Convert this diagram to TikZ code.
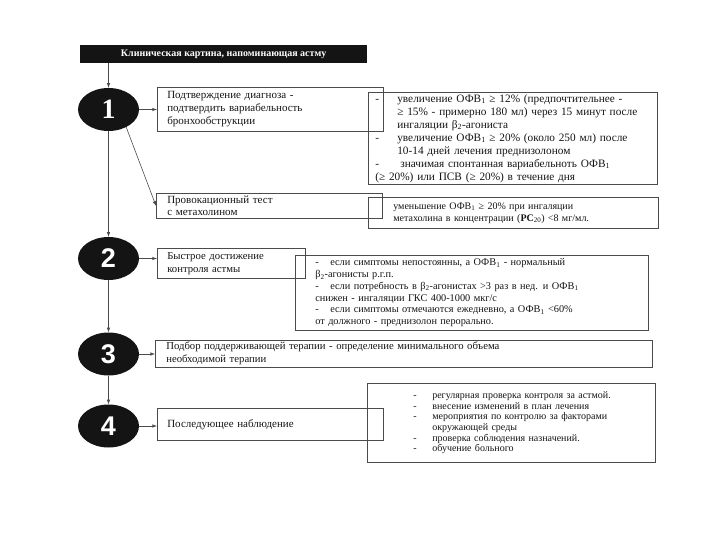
\documentclass[tikz,border=0pt]{standalone}
\usepackage{fontspec}
\setmainfont{Liberation Serif}
\newfontfamily\numfont{Liberation Sans}
\usetikzlibrary{shapes.geometric, arrows, positioning}
\definecolor{scanblack}{RGB}{20,20,20}
\definecolor{scangray}{RGB}{75,75,75}
\newcommand{\dsh}[1][22pt]{\makebox[#1][l]{-}}
\newcommand{\ofv}{ОФВ\textsubscript{1}}

\begin{document}
\begin{tikzpicture}[x=1pt, y=-1pt,
    stage/.style={ellipse, fill=scanblack, text=white, minimum width=61pt, minimum height=43pt, inner sep=0pt, font=\fontsize{28}{28}\selectfont\bfseries},
    box/.style={draw=scangray, line width=0.6pt, rectangle, anchor=north west, align=left, inner ysep=0pt, text=scanblack, font=\fontsize{11}{13}\selectfont},
    link/.style={draw=scangray, line width=0.6pt, -latex}]
  \useasboundingbox (0,0) rectangle (720,540);

  \node[fill=scanblack, text=white, anchor=north west, minimum width=287pt, minimum height=18pt, inner sep=0pt, font=\fontsize{10}{10}\selectfont\bfseries] (title) at (80,45) {Клиническая картина, напоминающая астму};

  \node[stage] (s1) at (108.5,109.5) {1};
  \node[stage, font=\fontsize{27}{27}\selectfont\numfont\bfseries] (s2) at (108.5,258.5) {2};
  \node[stage, font=\fontsize{27}{27}\selectfont\numfont\bfseries] (s3) at (108.5,354) {3};
  \node[stage, font=\fontsize{27}{27}\selectfont\numfont\bfseries] (s4) at (108.5,426) {4};

  \node[box, minimum width=226pt, minimum height=44pt, text width=206pt, inner xsep=10pt] (confirm) at (157,87) {Подтверждение диагноза -\\ подтвердить вариабельность\\ бронхообструкции};
  \node[box, minimum width=289pt, minimum height=92pt, text width=275pt, inner xsep=7pt, font=\fontsize{11.3}{13}\selectfont] (criteria) at (368,92) {\dsh увеличение \ofv{} ≥ 12\% (предпочтительнее -\\ \hspace*{22pt}≥ 15\% - примерно 180 мл) через 15 минут после\\ \hspace*{22pt}ингаляции β\textsubscript{2}-агониста\\ \dsh увеличение \ofv{} ≥ 20\% (около 250 мл) после\\ \hspace*{22pt}10-14 дней лечения преднизолоном\\ \dsh[25pt]значимая спонтанная вариабельноть \ofv\\ (≥ 20\%) или ПСВ (≥ 20\%) в течение дня};

  \node[box, minimum width=226pt, minimum height=25pt, text width=204pt, inner xsep=11pt, font=\fontsize{11}{12}\selectfont] (provoc) at (156,193) {Провокационный тест\\ с метахолином};
  \node[box, minimum width=290pt, minimum height=31pt, text width=240pt, inner xsep=25pt, font=\fontsize{10}{12}\selectfont] (metach) at (368,197) {уменьшение \ofv{} ≥ 20\% при ингаляции\\ метахолина в концентрации (\textbf{PC}\textsubscript{20}) <8 мг/мл.};

  \node[box, minimum width=148pt, minimum height=30pt, text width=128pt, inner xsep=10pt, font=\fontsize{10.7}{13}\selectfont] (rapid) at (157,248) {Быстрое достижение\\ контроля астмы};
  \node[box, minimum width=353pt, minimum height=75pt, text width=313pt, inner xsep=20pt, font=\fontsize{10.3}{11.8}\selectfont] (cases) at (295,255) {\dsh[15pt]если симптомы непостоянны, а \ofv{} - нормальный\\ β\textsubscript{2}-агонисты р.г.п.\\ \dsh[15pt]если потребность в β\textsubscript{2}-агонистах >3 раз в нед. и \ofv\\ снижен - ингаляции ГКС 400-1000 мкг/с\\ \dsh[15pt]если симптомы отмечаются ежедневно, а \ofv{} <60\%\\ от должного - преднизолон перорально.};

  \node[box, minimum width=497pt, minimum height=27pt, text width=475pt, inner xsep=11pt, font=\fontsize{10.7}{13}\selectfont] (maintain) at (155,340) {Подбор поддерживающей терапии - определение минимального объема\\ необходимой терапии};

  \node[box, minimum width=226pt, minimum height=32pt, text width=206pt, inner xsep=10pt] (followup) at (157,408) {Последующее наблюдение};
  \node[box, minimum width=288pt, minimum height=79pt, text width=268pt, inner xsep=10pt, font=\fontsize{10}{10.6}\selectfont] (measures) at (367,383) {\hspace*{36pt}\dsh[19pt]регулярная проверка контроля за астмой.\\ \hspace*{36pt}\dsh[19pt]внесение изменений в план лечения\\ \hspace*{36pt}\dsh[19pt]мероприятия по контролю за факторами\\ \hspace*{55pt}окружающей среды\\ \hspace*{36pt}\dsh[19pt]проверка соблюдения назначений.\\ \hspace*{36pt}\dsh[19pt]обучение больного};

  \draw[link] (title.south -| s1) -- (s1.north);
  \draw[link] (s1.east) -- (s1.east -| confirm.west);
  \draw[link] (s1.-45) -- (provoc.west);
  \draw[link] (s1.south) -- (s2.north);
  \draw[link] (s2.east) -- (s2.east -| rapid.west);
  \draw[link] (s2.south) -- (s3.north);
  \draw[link] (s3.east) -- (s3.east -| maintain.west);
  \draw[link] (s3.south) -- (s4.north);
  \draw[link] (s4.east) -- (s4.east -| followup.west);
\end{tikzpicture}
\end{document}
